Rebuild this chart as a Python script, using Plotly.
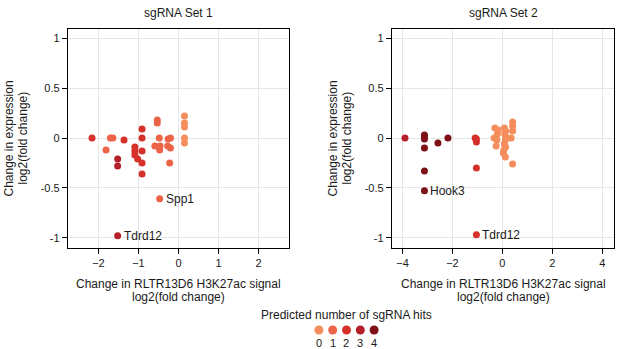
import plotly.graph_objects as go

# ---------------- data ----------------
hit_levels = [0, 1, 2, 3, 4]
hit_colors = ["#F58D5C", "#EC6446", "#D6302A", "#B51F29", "#7D1117"]

set1_x = [-2.16, -1.70, -1.64, -1.81, -1.36, -1.52, -1.52, -1.52, -1.09, -1.09, -1.09, -1.02,
          -0.91, -0.91, -0.91, -0.91, -0.91, -0.53, -0.53, -0.48, -0.59, -0.46, -0.47, -0.47,
          -0.26, -0.20, -0.27, -0.20, -0.22, 0.15, 0.15, 0.15, 0.15, 0.15]
set1_y = [0.00, 0.00, 0.00, -0.12, -0.02, -0.21, -0.28, -0.98, -0.09, -0.13, -0.17, -0.21,
          0.09, 0.00, -0.13, -0.25, -0.36, 0.18, 0.15, 0.00, -0.08, -0.08, -0.12, -0.61,
          -0.01, 0.00, -0.08, -0.10, -0.25, 0.22, 0.15, 0.11, 0.00, -0.05]
set1_hits = [2, 1, 1, 1, 2, 3, 3, 3, 2, 2, 2, 2,
             2, 2, 2, 2, 2, 1, 1, 1, 1, 1, 1, 1,
             1, 1, 1, 1, 1, 0, 0, 0, 0, 0]
set1_genes = ["", "", "", "", "", "", "", "Tdrd12", "", "", "", "",
              "", "", "", "", "", "", "", "", "", "", "", "Spp1",
              "", "", "", "", "", "", "", "", "", ""]

set2_x = [-3.90, -3.12, -3.12, -3.12, -3.12, -3.12, -3.12, -2.58, -2.18,
          -1.09, -1.04, -1.04, -1.04, -1.04,
          -0.30, -0.17, -0.20, -0.33, -0.22, -0.25,
          0.08, 0.13, 0.09, 0.14, 0.12, 0.08, 0.13, 0.06, 0.04, 0.12,
          0.41, 0.41, 0.41, 0.35, 0.41]
set2_y = [0.00, 0.03, 0.01, -0.01, -0.10, -0.33, -0.53, -0.05, 0.00,
          0.00, -0.01, -0.04, -0.30, -0.97,
          0.10, 0.08, 0.04, 0.00, -0.02, -0.08,
          0.10, 0.07, 0.04, 0.01, -0.02, -0.06, -0.09, -0.12, -0.15, -0.19,
          0.16, 0.12, 0.07, 0.00, -0.26]
set2_hits = [3, 4, 4, 4, 4, 4, 4, 4, 4,
             2, 2, 2, 2, 2,
             0, 0, 0, 0, 0, 0,
             0, 0, 0, 0, 0, 0, 0, 0, 0, 0,
             0, 0, 0, 0, 0]
set2_genes = ["", "", "", "", "", "", "Hook3", "", "",
              "", "", "", "", "Tdrd12",
              "", "", "", "", "", "",
              "", "", "", "", "", "", "", "", "", "",
              "", "", "", "", ""]

panel_titles = ["sgRNA Set 1", "sgRNA Set 2"]
x_title_lines = ["Change in RLTR13D6 H3K27ac signal", "log2(fold change)"]
y_title_lines = ["Change in expression", "log2(fold change)"]
legend_title = "Predicted number of sgRNA hits"
x1_ticks = [-2, -1, 0, 1, 2]
x2_ticks = [-4, -2, 0, 2, 4]
y_ticks = [-1, -0.5, 0, 0.5, 1]
y_ticktext = ["-1", "-0.5", "0", "0.5", "1"]

# ---------------- layout helpers ----------------
W, H = 617, 349
FONT = "Liberation Sans, Arial, Helvetica, sans-serif"
TXT = "#1a1a1a"


def dx(p0, p1):
    return [p0 / W, p1 / W]


def dy(top, bottom):
    return [1 - bottom / H, 1 - top / H]


fig = go.Figure()

panels = [
    (set1_x, set1_y, set1_hits, set1_genes, "x", "y"),
    (set2_x, set2_y, set2_hits, set2_genes, "x2", "y2"),
]
for xs, ys, hs, gs, xa, ya in panels:
    order = sorted(range(len(xs)), key=lambda i: hs[i])
    fig.add_trace(go.Scatter(
        x=[xs[i] for i in order], y=[ys[i] for i in order],
        mode="markers", xaxis=xa, yaxis=ya, showlegend=False,
        marker=dict(size=7, color=[hit_colors[hs[i]] for i in order], line=dict(width=0)),
        hoverinfo="x+y",
    ))
    for i, g in enumerate(gs):
        if g:
            fig.add_annotation(x=xs[i], y=ys[i], xref=xa, yref=ya, text=g,
                               showarrow=False, xanchor="left", yanchor="middle",
                               xshift=4, font=dict(size=12, color=TXT, family=FONT))

# legend as a small scatter
fig.add_trace(go.Scatter(
    x=hit_levels, y=[0] * len(hit_levels), xaxis="x3", yaxis="y3",
    mode="markers", marker=dict(size=9, color=hit_colors), showlegend=False, hoverinfo="skip",
))
for h in hit_levels:
    fig.add_annotation(x=h, y=0, xref="x3", yref="y3", text=str(h), showarrow=False,
                       xanchor="center", yanchor="middle", yshift=-13,
                       font=dict(size=11, color=TXT, family=FONT))

common_axis = dict(showline=True, linecolor="black", linewidth=1.3, mirror=True,
                   ticks="outside", ticklen=5, tickcolor="black", tickwidth=1.3,
                   showgrid=True, gridcolor="#E6E6E6", gridwidth=1, zeroline=False,
                   tickfont=dict(size=11, color=TXT, family=FONT), automargin=False)

fig.update_layout(
    width=W, height=H, margin=dict(l=0, r=0, t=0, b=0),
    paper_bgcolor="white", plot_bgcolor="white",
    font=dict(family=FONT, color=TXT),
    xaxis=dict(domain=dx(68, 289), range=[-2.76, 2.76], tickvals=x1_ticks, anchor="y", **common_axis),
    yaxis=dict(domain=dy(29, 248), range=[-1.103, 1.093], tickvals=y_ticks, ticktext=y_ticktext,
               anchor="x", **common_axis),
    xaxis2=dict(domain=dx(392, 614), range=[-4.42, 4.47], tickvals=x2_ticks, anchor="y2", **common_axis),
    yaxis2=dict(domain=dy(29, 248), range=[-1.103, 1.093], tickvals=y_ticks, ticktext=y_ticktext,
                anchor="x2", **common_axis),
    xaxis3=dict(domain=dx(312, 381), range=[-0.5, 4.5], visible=False, anchor="y3"),
    yaxis3=dict(domain=dy(322, 338), range=[-1, 1], visible=False, anchor="x3"),
)

title_font = dict(size=12, color=TXT, family=FONT)
for k, xa in enumerate(["x", "x2"]):
    # panel title
    fig.add_annotation(x=0.5, y=1 - 13 / H, xref=f"{xa} domain", yref="paper", text=panel_titles[k],
                       showarrow=False, xanchor="center", yanchor="middle", font=title_font)
    # x-axis title (two lines)
    for j, line in enumerate(x_title_lines):
        fig.add_annotation(x=0.5, y=1 - (284 + 13 * j) / H, xref=f"{xa} domain", yref="paper",
                           text=line, showarrow=False, xanchor="center", yanchor="middle",
                           font=title_font)
    # y-axis title (two lines, rotated)
    left_px = 68 if k == 0 else 392
    for j, line in enumerate(y_title_lines):
        fig.add_annotation(x=(left_px - 60 + 14 * j) / W, y=0.5, xref="paper",
                           yref=("y domain" if k == 0 else "y2 domain"),
                           text=line, textangle=-90, showarrow=False,
                           xanchor="center", yanchor="middle", font=title_font)

fig.add_annotation(x=346.5 / W, y=1 - 315 / H, xref="paper", yref="paper", text=legend_title,
                   showarrow=False, xanchor="center", yanchor="middle", font=title_font)

fig.write_html("out.html", config={"displayModeBar": False},
               post_script="document.body.style.margin='0';document.body.style.padding='0';")
